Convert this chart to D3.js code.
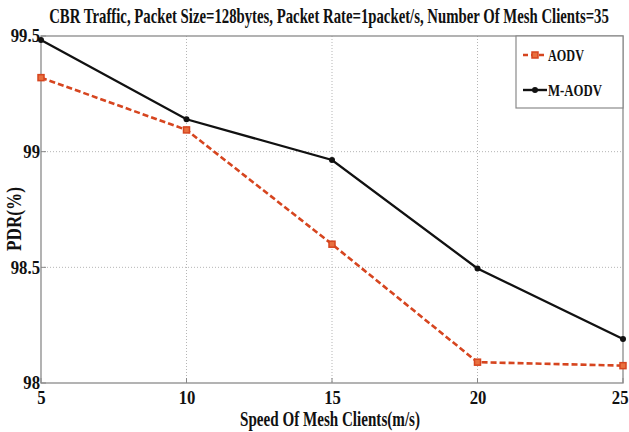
<!DOCTYPE html>
<html>
<head>
<meta charset="utf-8">
<script src="https://cdn.jsdelivr.net/npm/d3@7/dist/d3.min.js"></script>
<style>
  html, body { margin: 0; padding: 0; background: #fff; }
  svg { display: block; }
  text { font-family: "Liberation Serif", "Times New Roman", serif; font-weight: bold; fill: #111; }
</style>
</head>
<body>
<svg id="chart" width="629" height="432"></svg>
<script>
// Mesh client speed (m/s) on the x axis
const speeds = [5, 10, 15, 20, 25];
// Packet delivery ratio (%) per routing protocol
const aodv = [99.32, 99.094, 98.60, 98.09, 98.075];
const mAodv = [99.483, 99.14, 98.964, 98.495, 98.19];
const xTicks = [5, 10, 15, 20, 25];
const yTicks = [98, 98.5, 99, 99.5];
const yTickLabels = ["98", "98.5", "99", "99.5"];
const seriesNames = ["AODV", "M-AODV"];

const titleText = "CBR Traffic, Packet Size=128bytes, Packet Rate=1packet/s, Number Of Mesh Clients=35";
const xTitle = "Speed Of Mesh Clients(m/s)";
const yTitle = "PDR(%)";

const svg = d3.select("#chart");
const plot = { left: 41, right: 623, top: 36, bottom: 383 };

const x = d3.scaleLinear().domain([5, 25]).range([plot.left, plot.right]);
const y = d3.scaleLinear().domain([98, 99.5]).range([plot.bottom, plot.top]);

const red = "#d6451f";
const black = "#111";
const squeeze = 0.88;

// Places a horizontally condensed text so that it spans `width` pixels
function fitText(parent, str, size, cx, cy, width, rotate, anchor) {
  const t = parent.append("text").attr("font-size", size)
    .attr("text-anchor", anchor || "middle").text(str);
  const k = width / t.node().getComputedTextLength();
  t.attr("transform", `translate(${cx},${cy})${rotate ? ` rotate(${rotate})` : ""} scale(${k},1)`);
  return t;
}

// Dotted grid lines
const grid = svg.append("g");
grid.selectAll("line.gx").data(xTicks.slice(1, -1)).join("line")
  .attr("x1", d => x(d)).attr("x2", d => x(d))
  .attr("y1", plot.top).attr("y2", plot.bottom)
  .attr("stroke", "#b5b5b5").attr("stroke-width", 1).attr("stroke-dasharray", "1,2");
grid.selectAll("line.gy").data(yTicks.slice(1, -1)).join("line")
  .attr("x1", plot.left).attr("x2", plot.right)
  .attr("y1", d => y(d)).attr("y2", d => y(d))
  .attr("stroke", "#b5b5b5").attr("stroke-width", 1).attr("stroke-dasharray", "1,2");

// Axes (labels only; frame and inward ticks drawn separately)
const xAxis = d3.axisBottom(x).tickValues(xTicks).tickSize(0).tickPadding(0).tickFormat(d3.format("d"));
const gx = svg.append("g").attr("transform", `translate(0,${plot.bottom})`).call(xAxis);
gx.select(".domain").remove();
gx.selectAll("text")
  .attr("font-size", 19).attr("fill", "#111")
  .attr("font-family", "Liberation Serif, serif").attr("font-weight", "bold")
  .attr("y", 0).attr("dy", "0")
  .attr("transform", `translate(0,21) scale(${squeeze},1)`);
// keep the last label inside the canvas edge
gx.selectAll("text").filter(d => d === xTicks[xTicks.length - 1])
  .attr("text-anchor", "end").attr("x", (628 - plot.right) / squeeze);

const yAxis = d3.axisLeft(y).tickValues(yTicks).tickSize(0).tickPadding(0)
  .tickFormat((d, i) => yTickLabels[i]);
const gy = svg.append("g").attr("transform", `translate(${plot.left - 1},0)`).call(yAxis);
gy.select(".domain").remove();
gy.selectAll("text")
  .attr("font-size", 19).attr("fill", "#111")
  .attr("font-family", "Liberation Serif, serif").attr("font-weight", "bold")
  .attr("x", 0).attr("dy", "0.3em")
  .attr("transform", `scale(${squeeze},1)`);

// Small inward tick marks
svg.append("g").selectAll("line").data(xTicks).join("line")
  .attr("x1", d => x(d)).attr("x2", d => x(d))
  .attr("y1", plot.bottom).attr("y2", plot.bottom - 5)
  .attr("stroke", "#888");
svg.append("g").selectAll("line").data(yTicks).join("line")
  .attr("x1", plot.left).attr("x2", plot.left + 5)
  .attr("y1", d => y(d)).attr("y2", d => y(d))
  .attr("stroke", "#888");

// Plot frame
svg.append("rect")
  .attr("x", plot.left).attr("y", plot.top)
  .attr("width", plot.right - plot.left).attr("height", plot.bottom - plot.top)
  .attr("fill", "none").attr("stroke", "#8a8a8a").attr("stroke-width", 1.3);

const line = d3.line().x((d, i) => x(speeds[i])).y(d => y(d));

// AODV: red dashed with square markers
svg.append("path").datum(aodv)
  .attr("d", line).attr("fill", "none")
  .attr("stroke", red).attr("stroke-width", 2.6).attr("stroke-dasharray", "6,3");
svg.append("g").selectAll("rect").data(aodv).join("rect")
  .attr("x", (d, i) => x(speeds[i]) - 3).attr("y", d => y(d) - 3)
  .attr("width", 6).attr("height", 6)
  .attr("fill", "#e8703f").attr("stroke", red).attr("stroke-width", 1.5);

// M-AODV: black solid with dot markers
svg.append("path").datum(mAodv)
  .attr("d", line).attr("fill", "none")
  .attr("stroke", black).attr("stroke-width", 2.3);
svg.append("g").selectAll("circle").data(mAodv).join("circle")
  .attr("cx", (d, i) => x(speeds[i])).attr("cy", d => y(d)).attr("r", 3)
  .attr("fill", black);

// Legend
const lg = svg.append("g").attr("transform", "translate(516,36)");
lg.append("rect").attr("width", 107).attr("height", 72)
  .attr("fill", "#fff").attr("stroke", "#8a8a8a").attr("stroke-width", 1.2);
const entries = [
  { name: seriesNames[0], color: red, dash: "5,3", marker: "square", yy: 19, len: 36 },
  { name: seriesNames[1], color: black, dash: null, marker: "dot", yy: 54, len: 54 }
];
entries.forEach(e => {
  lg.append("line").attr("x1", 7).attr("x2", 31).attr("y1", e.yy).attr("y2", e.yy)
    .attr("stroke", e.color).attr("stroke-width", 2.4)
    .attr("stroke-dasharray", e.dash);
  if (e.marker === "square") {
    lg.append("rect").attr("x", 16).attr("y", e.yy - 3).attr("width", 6).attr("height", 6)
      .attr("fill", "#e8703f").attr("stroke", red).attr("stroke-width", 1.5);
  } else {
    lg.append("circle").attr("cx", 19).attr("cy", e.yy).attr("r", 3).attr("fill", black);
  }
  fitText(lg, e.name, 17, 32, e.yy + 6, e.len, 0, "start");
});

// Titles
fitText(svg, titleText, 21, 329, 23, 560);
fitText(svg, xTitle, 20, 330, 426, 180);
fitText(svg, yTitle, 20, 21, 219, 64, -90);
</script>
</body>
</html>
